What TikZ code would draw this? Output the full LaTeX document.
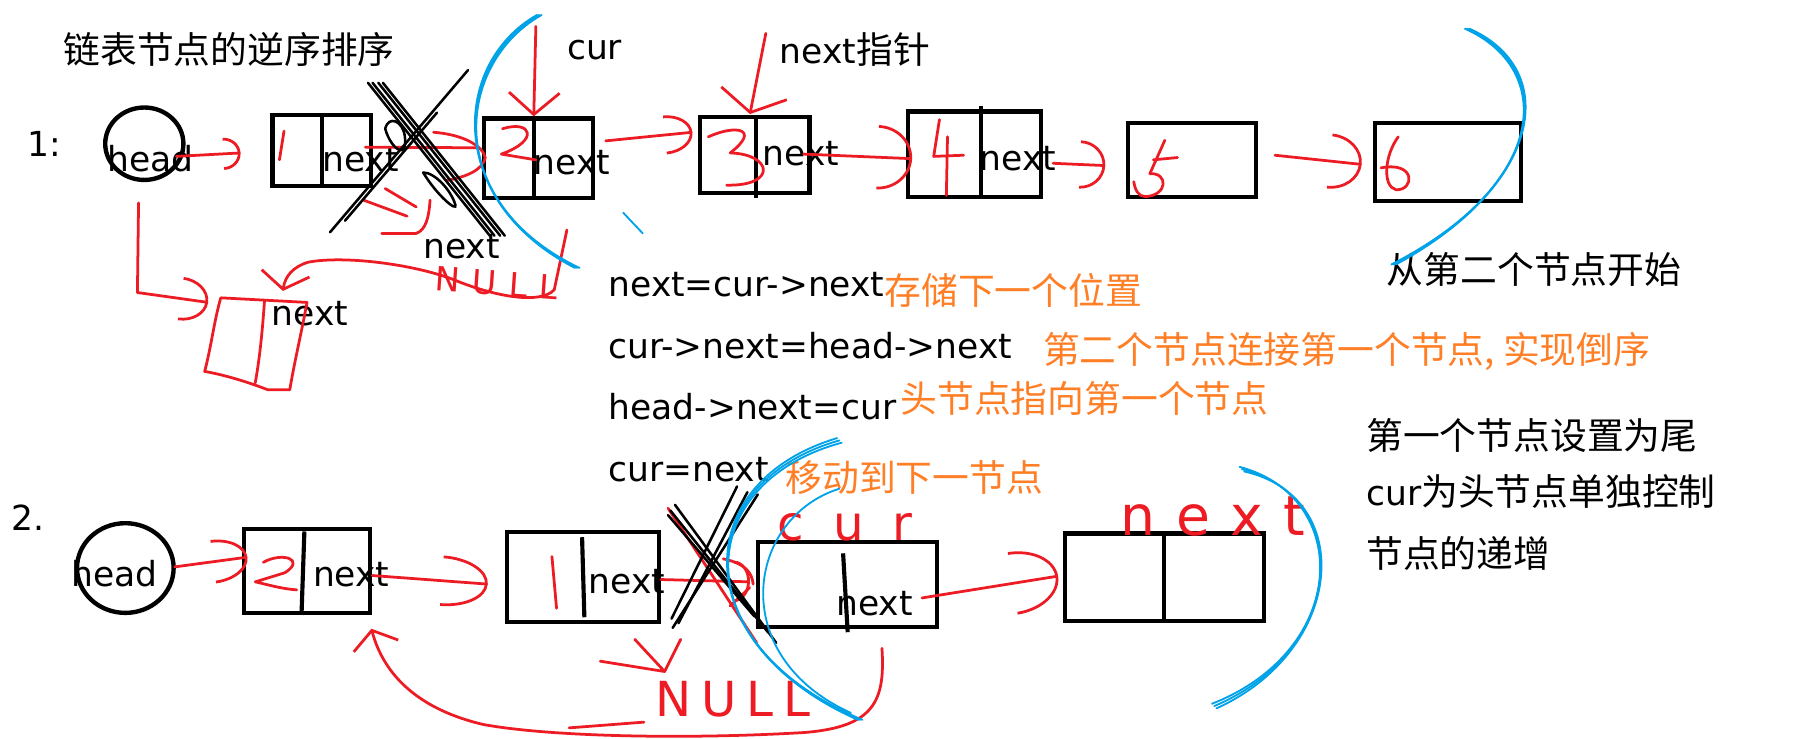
\documentclass[tikz,border=0pt]{standalone}
\usepackage{fontspec}
\setmainfont{DejaVu Sans}
\newfontfamily\cjkfont{Noto Sans CJK SC}
\usetikzlibrary{arrows.meta,shapes.geometric,calc}

\definecolor{penred}{HTML}{ED1C24}
\definecolor{penblue}{HTML}{00A2E8}
\definecolor{noteorange}{HTML}{FF7F27}

\newcommand{\zh}[1]{{\cjkfont\fontsize{32}{38}\selectfont #1}}

\tikzset{
  txt/.style={anchor=base west, inner sep=0pt, font=\fontsize{30}{36}\selectfont},
  zh/.style={anchor=base west, inner sep=0pt, font=\cjkfont\fontsize{32}{38}\selectfont},
  note/.style={zh, text=noteorange},
  cell/.style={draw, line width=3.6pt, inner sep=0pt},
  wall/.style={line width=3.6pt},
  headnode/.style={ellipse, draw, line width=3.8pt, inner sep=0pt},
  pen/.style={draw=penred, line width=2.4pt, line cap=round, line join=round},
  link/.style 2 args={pen, -{Arc Barb[length=#1, width=#2]}},
  poke/.style 2 args={pen, -{Straight Barb[length=#1, width=#2]}},
  sweep/.style={draw=penblue, line width=1.6pt, line cap=round},
  scrib/.style={draw=black, line width=2.2pt, line cap=round},
  scrawl/.style={anchor=base west, inner sep=0pt, text=penred},
}

\begin{document}
\begin{tikzpicture}[x=1pt,y=-1pt]
  \fill[white] (0,0) rectangle (1568,642);
  \useasboundingbox (0,0) rectangle (1568,642);

  %TITLE AND STEP 1
  \node[zh] (title) at (55,55.5) {链表节点的逆序排序};
  \node[txt] (step1) at (24,136) {1:};
  \node[headnode, minimum width=68, minimum height=63] (h1) at (125.5,125) {};
  \node[txt] (h1t) at (93,149) {head};

  \node[cell, minimum width=86, minimum height=62] (b1) at (280,131) {};
  \node[cell, minimum width=95, minimum height=69] (b2) at (468.5,137.5) {};
  \node[cell, minimum width=95, minimum height=66] (b3) at (656.5,135) {};
  \node[cell, minimum width=115, minimum height=74] (b4) at (847.5,134) {};
  \node[cell, minimum width=111, minimum height=64] (b5) at (1036.5,139) {};
  \node[cell, minimum width=127, minimum height=68] (b6) at (1259.5,141) {};
  \draw[wall] (b1.north) -- (b1.south);
  \draw[wall] ([xshift=45pt]b2.north west) -- ([xshift=45pt]b2.south west);
  \draw[wall] ($(b3.north west)+(50,3)$) -- ($(b3.south west)+(50,2)$);
  \draw[wall] ($(b4.north west)+(65,-3)$) -- ($(b4.south west)+(65,-1)$);

  \node[txt] (b1n) at (280,149) {next};
  \node[txt] (b2n) at (464,152) {next};
  \node[txt] (b3n) at (663,144) {next};
  \node[txt] (b4n) at (852,148) {next};
  \node[txt] (curlbl) at (493,52) {cur};
  \node[txt] (ptrlbl) at (678,55) {next\zh{指针}};
  \node[txt] (revlbl) at (368,225) {next};
  \node[txt] (rbn) at (236,283) {next};
  \node[zh] (fromsec) at (1206,246.5) {从第二个节点开始};

  %numbers written in the cells
  \draw[pen] (247,114) -- (243,139);
  \draw[pen] (437,112) .. controls (462,104) and (470,122) .. (436,134) -- (466,139);
  \draw[pen] (616,119) .. controls (640,108) and (662,112) .. (635,133) .. controls (672,134) and (676,162) .. (632,161);
  \draw[pen] (817,104) -- (812,136) -- (838,135) (824,119) -- (823,170);
  \draw[pen] (1013,122) -- (1000,151) .. controls (1016,150) and (1016,170) .. (996,171) .. controls (990,171) and (987,165) .. (986,158) (1003,139) -- (1024,137);
  \draw[pen] (1216,119) .. controls (1204,135) and (1202,162) .. (1214,165) .. controls (1230,166) and (1232,140) .. (1201,146);

  %pointers of step 1
  \draw[link={15pt}{28pt}] ($(h1.east)+(-8,11)$) -- ($(b1.west)+(-26,2)$);
  \draw[pen] ($(b1.east)+(-7,-3)$) -- ($(b2.west)+(-4,-9)$);
  \draw[pen] (377,115) .. controls (403,117) and (420,127) .. (422,137) .. controls (420,148) and (405,154) .. (388,157);
  \draw[pen] (316,174) -- (354,188);
  \draw[pen] (335,164) -- (362,180);
  \draw[pen] (374,174) .. controls (373,190) and (370,200) .. (362,203) -- (332,203);
  \draw[link={24pt}{34pt}] ($(b2.east)+(9,-15)$) -- ($(b3.west)+(-5,-20)$);
  \draw[link={30pt}{56pt}] ($(b3.east)+(-7,-1)$) -- ($(b4.west)+(5,4)$);
  \draw[link={22pt}{42pt}] ($(b4.east)+(9,8)$) -- ($(b5.west)+(-18,5)$);
  \draw[link={28pt}{48pt}] ($(b5.east)+(15,-4)$) -- ($(b6.west)+(-10,2)$);

  \coordinate (curtail) at (466,23);
  \coordinate (ptrtail) at (666,29);
  \draw[poke={19pt}{44pt}] (curtail) -- ([xshift=45pt]b2.north west);
  \draw[poke={17pt}{58pt}] (ptrtail) -- ($(b3.north west)+(45,-1)$);

  %new cell under head
  \coordinate (rb) at (186,262);
  \coordinate (rbtop) at (267,263);
  \draw[pen] (192,259) -- (rbtop) .. controls (262,290) and (256,315) .. (252,339) -- (233,339) .. controls (215,332) and (195,326) .. (178,323) .. controls (184,300) and (186,280) .. (192,259);
  \draw[pen] (230,262) .. controls (228,290) and (226,310) .. (222,333);
  \draw[link={24pt}{38pt}] ($(h1.south)+(-5,18)$) -- ++(-1,78) -- ($(rb)+(-5,1)$);

  \coordinate (nulltop) at (493,200);
  \draw[poke={14pt}{42pt}] (nulltop) -- (482,252) .. controls (470,265) and (430,258) .. (394,243) .. controls (360,230) and (300,222) .. (268,228) .. controls (255,232) and (248,240) .. ($(rbtop)+(-21,-10)$);
  \node[scrawl, font=\fontsize{29}{34}\selectfont\addfontfeature{LetterSpace=36}, rotate=-4] (null1) at (378,253) {NULL};

  %crossed out link
  \draw[scrib] (287,202) -- (407,61);
  \draw[scrib] (300,192) -- (380,98);
  \foreach \d in {-6,-2,3,7}{
    \draw[scrib] (326+\d,72) -- (432+\d,205);
  }
  \draw[scrib] (335,112) .. controls (340,130) and (355,140) .. (352,118) .. controls (350,105) and (338,100) .. (335,112);
  \draw[scrib] (368,150) .. controls (380,170) and (398,185) .. (396,178) .. controls (392,165) and (378,150) .. (368,150);

  %blue sweeps
  \foreach \d in {-2,0,2}{
    \draw[sweep] (469+\d,13) .. controls (395+\d,55) and (385-\d,175) .. (502+\d,233);
    \draw[sweep] (1276+\d,25) .. controls (1355+\d,60) and (1345-\d,160) .. (1212+\d,230);
  }
  \draw[sweep] (542,185) -- (559,203);

  %CODE
  \node[txt] (code1) at (529,258) {next=cur->next};
  \node[note] (note1) at (769,264.5) {存储下一个位置};
  \node[txt] (code2) at (529,312) {cur->next=head->next};
  \node[note] (note2) at (907,316.5) {第二个节点连接第一个节点, 实现倒序};
  \node[txt] (code3) at (529,365) {head->next=cur};
  \node[note] (note3) at (783,358.5) {头节点指向第一个节点};
  \node[txt] (code4) at (529,419) {cur=next};
  \node[note] (note4) at (683,427.5) {移动到下一节点};

  \node[zh] (tail) at (1188,390.5) {第一个节点设置为尾};
  \node[txt] (ctrl) at (1188,439.5) {cur\zh{为头节点单独控制}};
  \node[zh] (grow) at (1188,493.5) {节点的递增};

  %STEP 2
  \node[txt] (step2) at (10,461) {2.};
  \node[headnode, minimum width=84, minimum height=78] (h2) at (109,494) {};
  \node[txt] (h2t) at (62,510) {head};

  \node[cell, minimum width=110, minimum height=73] (c1) at (267,496.5) {};
  \node[cell, minimum width=132, minimum height=78] (c2) at (507,502) {};
  \node[cell, minimum width=156, minimum height=74] (c3) at (737,508) {};
  \node[cell, minimum width=173, minimum height=76] (c4) at (1012.5,502) {};
  \draw[wall] ($(c1.north west)+(54.5,4)$) -- ($(c1.south west)+(52,0)$);
  \draw[wall] ($(c2.north west)+(67,6)$) -- ($(c2.south west)+(69,-6)$);
  \draw[wall] ($(c3.north west)+(76,12)$) -- ($(c3.south west)+(80,3)$);
  \draw[wall] ($(c4.north west)+(88,0)$) -- ($(c4.south west)+(88,0)$);

  \node[txt] (c1n) at (272,510) {next};
  \node[txt] (c2n) at (512,516) {next};
  \node[txt] (c3n) at (727,535) {next};

  \draw[pen] (229,489) .. controls (245,480) and (266,486) .. (248,498) -- (222,506) .. controls (235,509) and (245,512) .. (258,513);
  \draw[pen] (480,484) -- (484,529);

  \node[scrawl, font=\fontsize{42}{50}\selectfont\addfontfeature{LetterSpace=60}] (curhand) at (676,470) {cur};
  \node[scrawl, font=\fontsize{48}{56}\selectfont\addfontfeature{LetterSpace=38}] (nexthand) at (974,466) {next};
  \node[scrawl, font=\fontsize{42}{50}\selectfont\addfontfeature{LetterSpace=20}] (null2) at (570,623) {NULL};

  %pointers of step 2
  \draw[link={30pt}{38pt}] ($(h2.east)+(-1,-1)$) -- ($(c1.west)+(5,-12)$);
  \draw[link={40pt}{44pt}] ($(c1.east)+(0,4)$) -- ($(c2.west)+(-15,6)$);
  \draw[link={14pt}{36pt}] ($(c2.east)+(0,2)$) -- ($(c3.west)+(-5,-2)$);
  \draw[link={40pt}{55pt}] ($(c3.east)+(-15,12)$) -- ($(c4.west)+(-4,-1)$);
  \draw[poke={14pt}{40pt}] ($(c3.south)+(30,17)$) .. controls (770,610) and (760,632) .. (700,637) .. controls (600,643) and (480,641) .. (420,630) .. controls (365,617) and (334,588) .. ($(c1.south)+(56,12)$);
  \draw[pen] (495,633) -- (560,628);
  \draw[pen] (522,575) -- (578,584) (552,556) -- (578,584) -- (592,556);

  %crossed out link
  \draw[pen] (581,442) -- (658,559);
  \draw[pen] (629,486) .. controls (648,490) and (654,498) .. (655,508);
  \draw[pen] (635,527) -- (652,511);
  \draw[scrib] (581,448) -- (656,536);
  \draw[scrib] (587,439) -- (675,559);
  \draw[scrib] (583,444) -- (668,550);
  \draw[scrib] (641,423) -- (584,538);
  \draw[scrib] (659,430) -- (585,546);
  \draw[scrib] (650,428) -- (590,542);

  \foreach \d in {-2,0,2}{
    \draw[sweep] (730+\d,383+\d) .. controls (600+\d,420) and (595-\d,560) .. (748+\d,626);
    \draw[sweep] (1080+\d,408+\d) .. controls (1178+\d,432) and (1172-\d,565) .. (1056+\d,614+\d);
  }
  \draw[sweep] (730,425) .. controls (650,450) and (630,570) .. (740,620);
\end{tikzpicture}
\end{document}
